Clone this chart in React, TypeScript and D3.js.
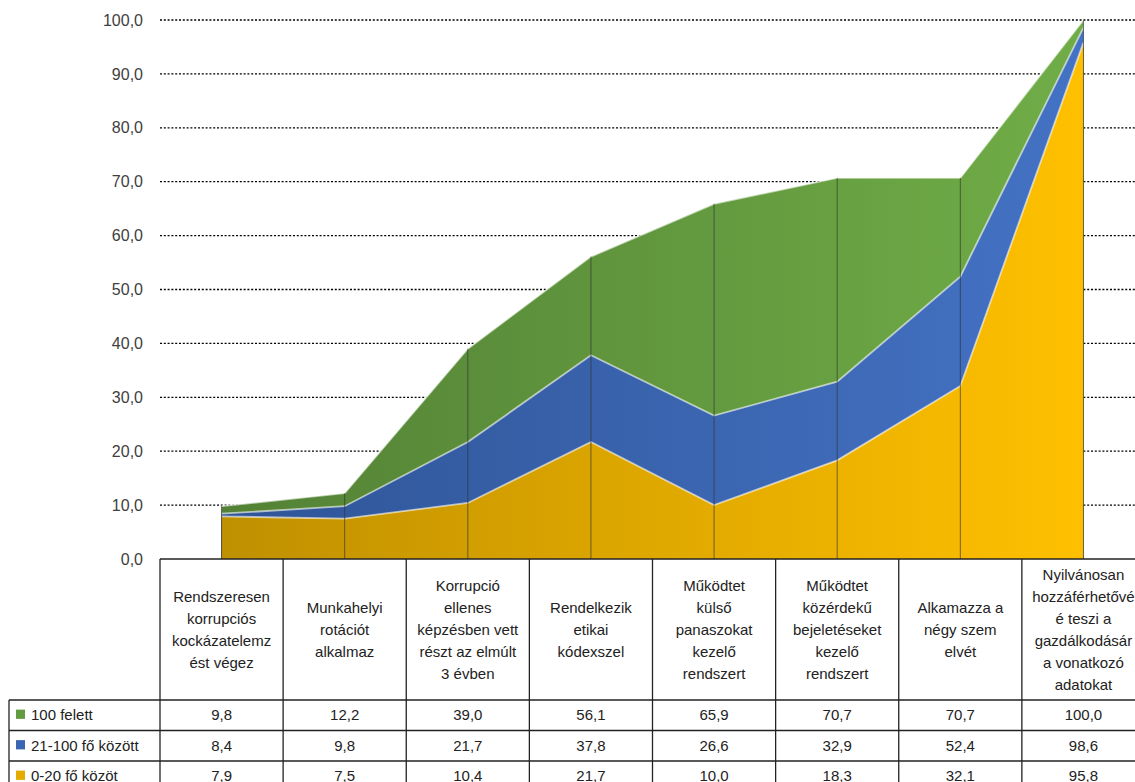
import React from "react";
import * as d3 from "d3";

const categories: string[][] = [
  ["Rendszeresen", "korrupciós", "kockázatelemz", "ést végez"],
  ["Munkahelyi", "rotációt", "alkalmaz"],
  ["Korrupció", "ellenes", "képzésben vett", "részt az elmúlt", "3 évben"],
  ["Rendelkezik", "etikai", "kódexszel"],
  ["Működtet", "külső", "panaszokat", "kezelő", "rendszert"],
  ["Működtet", "közérdekű", "bejeletéseket", "kezelő", "rendszert"],
  ["Alkamazza a", "négy szem", "elvét"],
  ["Nyilvánosan", "hozzáférhetővé", "é teszi a", "gazdálkodásár", "a vonatkozó", "adatokat"],
];
const seriesNames = ["100 felett", "21-100 fő között", "0-20 fő közöt"];
const over100 = [9.8, 12.2, 39.0, 56.1, 65.9, 70.7, 70.7, 100.0];
const mid21to100 = [8.4, 9.8, 21.7, 37.8, 26.6, 32.9, 52.4, 98.6];
const small0to20 = [7.9, 7.5, 10.4, 21.7, 10.0, 18.3, 32.1, 95.8];
const yTicks = [0, 10, 20, 30, 40, 50, 60, 70, 80, 90, 100];

const W = 1135;
const H = 782;
const FONT = "'Liberation Sans', Arial, sans-serif";

export default function App() {
  const idx = categories.map((_, i) => String(i));
  const x = d3.scaleBand<string>().domain(idx).range([160, 1145]);
  const y = d3.scaleLinear().domain([0, 100]).range([559, 20]);
  const cx = (i: number) => (x(String(i)) as number) + x.bandwidth() / 2;

  const series = [
    { name: seriesNames[0], values: over100, dark: "#538135", light: "#70AD47", sw: "#70AD47" },
    { name: seriesNames[1], values: mid21to100, dark: "#2F5597", light: "#4472C4", sw: "#4472C4" },
    { name: seriesNames[2], values: small0to20, dark: "#BF9000", light: "#FFC000", sw: "#FFC000" },
  ];

  const area = d3
    .area<number>()
    .x((_, i) => cx(i))
    .y0(y(0))
    .y1((d) => y(d))
    .curve(d3.curveLinear);
  const line = d3
    .line<number>()
    .x((_, i) => cx(i))
    .y((d) => y(d));

  const x0 = cx(0);
  const x1 = cx(categories.length - 1);
  const bandLefts = idx.map((k) => x(k) as number);
  const tableTop = y(0);
  const headerBottom = 700;
  const rowH = 30.5;

  return (
    <div style={{ position: "absolute", left: 0, top: 0 }}>
      <svg width={W} height={H} style={{ display: "block", background: "#fff" }}>
        <defs>
          {series.map((s, i) => (
            <linearGradient key={i} id={"g" + i} gradientUnits="userSpaceOnUse" x1={x0} x2={x1} y1={0} y2={0}>
              <stop offset="0" stopColor={s.dark} />
              <stop offset="1" stopColor={s.light} />
            </linearGradient>
          ))}
        </defs>
        {yTicks.filter((t) => t > 0).map((t) => (
          <line key={t} x1={160} x2={W} y1={y(t)} y2={y(t)} stroke="#000" strokeWidth={1.3} strokeDasharray="2 1.8" />
        ))}
        {yTicks.map((t) => (
          <text key={t} x={143} y={y(t)} dy="0.35em" textAnchor="end" fontFamily={FONT} fontSize={16} fill="#404040">
            {d3.format(".1f")(t).replace(".", ",")}
          </text>
        ))}
        {series.map((s, i) => (
          <g key={i}>
            <path d={area(s.values) as string} fill={`url(#g${i})`} />
            <path d={line(s.values) as string} fill="none" stroke="rgba(255,255,255,0.6)" strokeWidth={1.8} />
          </g>
        ))}
        {over100.map((v, i) => (
          <line key={i} x1={cx(i)} x2={cx(i)} y1={y(v)} y2={y(0)} stroke="#333" strokeOpacity={0.65} strokeWidth={1} />
        ))}
        <g stroke="#222" strokeWidth={1.3} fill="none">
          <line x1={160} x2={W} y1={tableTop} y2={tableTop} />
          <line x1={9} x2={W} y1={headerBottom} y2={headerBottom} />
          {[1, 2, 3].map((r) => (
            <line key={r} x1={9} x2={W} y1={headerBottom + r * rowH} y2={headerBottom + r * rowH} />
          ))}
          <line x1={9} x2={9} y1={headerBottom} y2={H} />
          {bandLefts.map((bx, i) => (
            <line key={i} x1={bx} x2={bx} y1={tableTop} y2={H} />
          ))}
        </g>
        {categories.map((lines, i) => {
          const lh = 22;
          const startY = (tableTop + headerBottom) / 2 - ((lines.length - 1) * lh) / 2;
          return (
            <text key={i} textAnchor="middle" fontFamily={FONT} fontSize={15} fill="#222">
              {lines.map((ln, j) => (
                <tspan key={j} x={cx(i)} y={startY + j * lh} dy="0.35em">
                  {ln}
                </tspan>
              ))}
            </text>
          );
        })}
        {series.map((s, r) => {
          const ry = headerBottom + r * rowH + rowH / 2 - 0.5;
          return (
            <g key={r}>
              <rect x={16} y={ry - 5} width={9} height={9} fill={`url(#g${r})`} />
              <rect x={16} y={ry - 5} width={9} height={9} fill={s.sw} opacity={0.6} />
              <text x={31} y={ry} dy="0.35em" fontFamily={FONT} fontSize={15} fill="#222">
                {s.name}
              </text>
              {s.values.map((v, i) => (
                <text key={i} x={cx(i)} y={ry} dy="0.35em" textAnchor="middle" fontFamily={FONT} fontSize={15} fill="#222">
                  {d3.format(".1f")(v).replace(".", ",")}
                </text>
              ))}
            </g>
          );
        })}
      </svg>
    </div>
  );
}
